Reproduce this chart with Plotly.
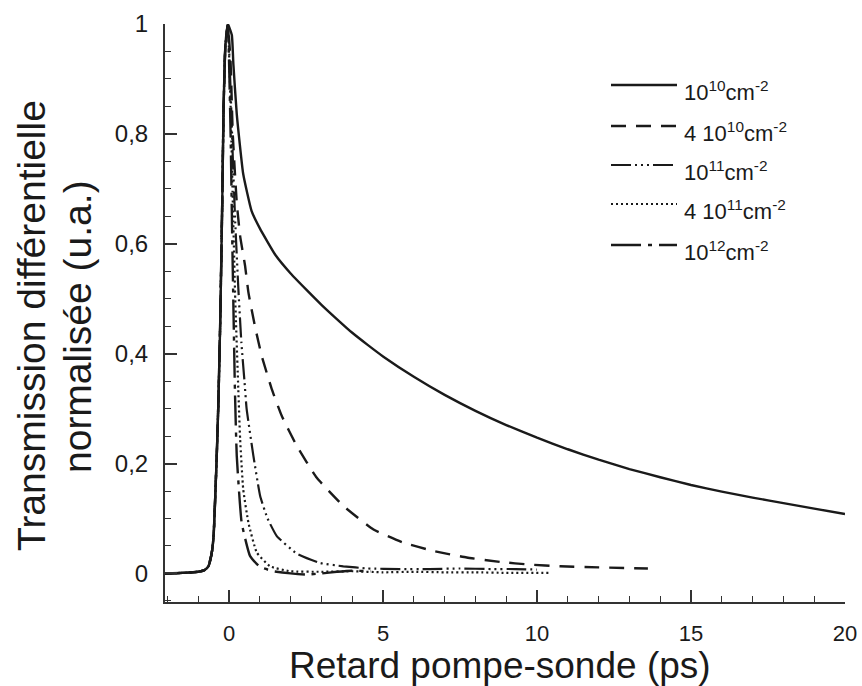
import plotly.graph_objects as go

# ---------------- data ----------------
rise_x = [-2.08, -1.5, -1.0, -0.8, -0.67, -0.56, -0.5, -0.4, -0.35, -0.29, -0.22, -0.18, -0.12, -0.04]
rise_y = [0.0, 0.001, 0.003, 0.006, 0.013, 0.038, 0.07, 0.214, 0.305, 0.45, 0.68, 0.84, 0.96, 1.0]

s1_label = "10<sup>10</sup>cm<sup>-2</sup>"
s1_x = rise_x + [0.09, 0.14, 0.25, 0.46, 0.73, 1.0, 1.5, 2.0, 2.5, 3.0, 3.5, 4.0, 4.5, 5.0,
                 6.0, 7.0, 8.0, 9.0, 10.0, 11.0, 12.0, 13.0, 14.0, 15.0, 16.0, 17.0,
                 18.0, 19.0, 20.0]
s1_y = rise_y + [0.98, 0.927, 0.836, 0.727, 0.66, 0.628, 0.58, 0.546, 0.517, 0.489, 0.463,
                 0.438, 0.416, 0.395, 0.358, 0.325, 0.296, 0.270, 0.247, 0.226, 0.207, 0.190,
                 0.175, 0.161, 0.149, 0.138, 0.128, 0.118, 0.108]

s2_label = "4 10<sup>10</sup>cm<sup>-2</sup>"
s2_x = rise_x + [0.05, 0.12, 0.25, 0.36, 0.52, 0.63, 0.84, 1.06, 1.39, 1.71, 2.2, 2.85, 3.71,
                 4.69, 5.66, 6.63, 7.72, 8.8, 9.77, 10.75, 12.0, 13.6]
s2_y = rise_y + [0.93, 0.80, 0.675, 0.614, 0.56, 0.511, 0.45, 0.396, 0.335, 0.287, 0.232, 0.174,
                 0.123, 0.080, 0.056, 0.041, 0.029, 0.021, 0.016, 0.013, 0.011, 0.009]

s3_label = "10<sup>11</sup>cm<sup>-2</sup>"
s3_x = rise_x + [0.05, 0.12, 0.2, 0.3, 0.4, 0.5, 0.57, 0.79, 1.01, 1.25, 1.55, 2.2, 2.95, 3.71,
                 4.5, 5.55, 6.5, 7.5, 8.5, 9.3, 10.0]
s3_y = rise_y + [0.88, 0.76, 0.64, 0.52, 0.42, 0.35, 0.30, 0.214, 0.141, 0.10, 0.068, 0.036,
                 0.019, 0.013, 0.009, 0.008, 0.008, 0.009, 0.008, 0.008, 0.007]

s4_label = "4 10<sup>11</sup>cm<sup>-2</sup>"
s4_x = rise_x + [0.05, 0.12, 0.2, 0.30, 0.36, 0.46, 0.63, 0.9, 1.33, 1.98, 3.0, 4.0, 5.0, 6.0,
                 7.0, 8.0, 9.0, 10.4]
s4_y = rise_y + [0.85, 0.68, 0.5, 0.335, 0.244, 0.153, 0.092, 0.038, 0.013, 0.004, 0.003, 0.004,
                 0.002, 0.003, 0.002, 0.002, 0.001, 0.001]

s5_label = "10<sup>12</sup>cm<sup>-2</sup>"
s5_x = rise_x + [0.05, 0.1, 0.19, 0.25, 0.41, 0.68, 1.0, 1.44, 2.0, 2.5, 3.0, 3.5, 4.0, 4.6]
s5_y = rise_y + [0.80, 0.62, 0.335, 0.214, 0.092, 0.032, 0.012, 0.004, 0.0, -0.002, 0.0, 0.003,
                 0.005, 0.004]

x_tickvals = [0, 5, 10, 15, 20]
x_ticktext = ["0", "5", "10", "15", "20"]
y_tickvals = [0, 0.2, 0.4, 0.6, 0.8, 1.0]
y_ticktext = ["0", "0,2", "0,4", "0,6", "0,8", "1"]

x_title = "Retard pompe-sonde (ps)"
y_title_lines = ["Transmission différentielle", "normalisée (u.a.)"]

# ---------------- styles ----------------
INK = "#1a1a1a"
FONT = "Liberation Sans, Arial"
series = [
    (s1_label, s1_x, s1_y, "solid", 2.4),
    (s2_label, s2_x, s2_y, "15px,10px", 2.4),
    (s3_label, s3_x, s3_y, "20px,4px,2px,4px,2px,4px,2px,4px", 2.2),
    (s4_label, s4_x, s4_y, "2px,3px", 2.2),
    (s5_label, s5_x, s5_y, "30px,7px,4px,7px", 2.4),
]

W, H = 862, 686
ML, MR, MT, MB = 165, 17, 24, 84
PW, PH = W - ML - MR, H - MT - MB


def px_to_paper_x(px):
    return (px - ML) / PW


def px_to_paper_y(py):
    return (H - MB - py) / PH


fig = go.Figure()
for name, xs, ys, dash, w in series:
    fig.add_trace(go.Scatter(x=xs, y=ys, mode="lines", name=name,
                             line=dict(color=INK, width=w, dash=dash, shape="spline",
                                       smoothing=0.4),
                             showlegend=False))

# manual legend (keys + labels)
legend_rows_px = [85, 126, 165, 204, 245]
shapes = []
annotations = []
for (name, xs, ys, dash, w), ry in zip(series, legend_rows_px):
    shapes.append(dict(type="line", xref="paper", yref="paper",
                       x0=px_to_paper_x(611), x1=px_to_paper_x(677),
                       y0=px_to_paper_y(ry), y1=px_to_paper_y(ry),
                       line=dict(color=INK, width=w, dash=dash)))
    annotations.append(dict(text=name, xref="paper", yref="paper",
                            x=px_to_paper_x(682), y=px_to_paper_y(ry + 6),
                            xanchor="left", yanchor="middle", showarrow=False,
                            font=dict(size=22, color=INK, family=FONT)))

annotations.append(dict(text=x_title, xref="paper", yref="paper",
                        x=px_to_paper_x(500), y=px_to_paper_y(665),
                        xanchor="center", yanchor="middle", showarrow=False,
                        font=dict(size=37, color=INK, family=FONT)))
for line_text, cx in zip(y_title_lines, [31, 77]):
    annotations.append(dict(text=line_text, xref="paper", yref="paper",
                            x=px_to_paper_x(cx), y=px_to_paper_y(326),
                            xanchor="center", yanchor="middle", showarrow=False,
                            textangle=-90,
                            font=dict(size=39, color=INK, family=FONT)))

fig.update_layout(
    width=W, height=H,
    margin=dict(l=ML, r=MR, t=MT, b=MB, autoexpand=False),
    paper_bgcolor="white", plot_bgcolor="white",
    font=dict(family=FONT, color=INK),
    shapes=shapes, annotations=annotations,
    showlegend=False,
)
fig.update_xaxes(
    range=[-2.08, 20.0], showgrid=False, zeroline=False, automargin=False,
    showline=True, linecolor="#333", linewidth=2,
    tickmode="array", tickvals=x_tickvals, ticktext=x_ticktext,
    ticks="inside", ticklen=12, tickwidth=1.5, tickcolor="#333",
    ticklabelstandoff=11,
    tickfont=dict(size=22, color=INK),
    minor=dict(dtick=1, tick0=0, ticks="inside", ticklen=6, tickwidth=1.2, tickcolor="#333",
               showgrid=False),
)
fig.update_yaxes(
    range=[-0.052, 1.0], showgrid=False, zeroline=False, automargin=False,
    showline=True, linecolor="#333", linewidth=2,
    tickmode="array", tickvals=y_tickvals, ticktext=y_ticktext,
    ticks="inside", ticklen=12, tickwidth=1.5, tickcolor="#333",
    ticklabelstandoff=10,
    tickfont=dict(size=24, color=INK),
    minor=dict(dtick=0.05, tick0=0, ticks="inside", ticklen=6, tickwidth=1.2, tickcolor="#333",
               showgrid=False),
)

fig.write_html("out.html")
